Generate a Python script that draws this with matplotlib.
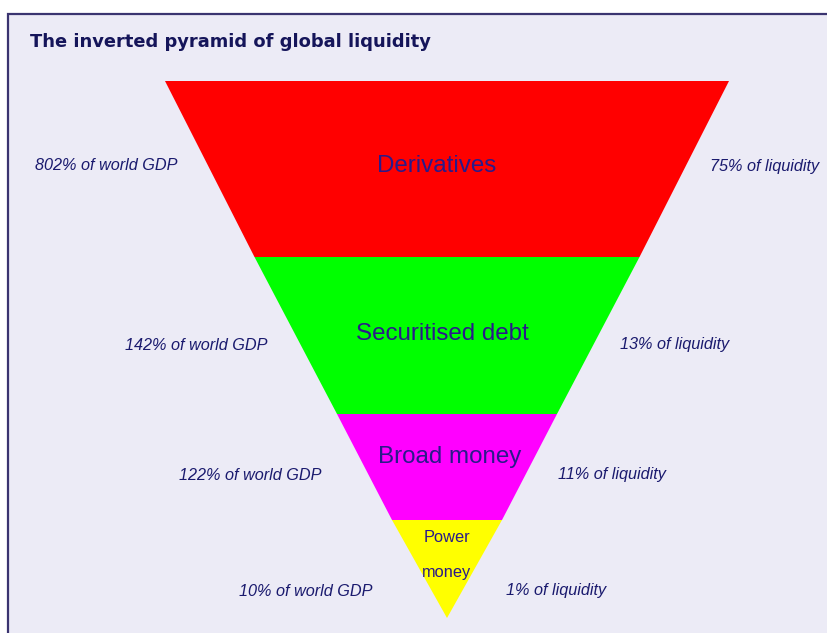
import matplotlib
matplotlib.use("Agg")
import matplotlib.pyplot as plt
from matplotlib.patches import Polygon, Rectangle

# ---- data ----
layers = ["Derivatives", "Securitised debt", "Broad money", "Power\nmoney"]
colors = ["#ff0000", "#00ff00", "#ff00ff", "#ffff00"]
gdp_labels = ["802% of world GDP", "142% of world GDP", "122% of world GDP", "10% of world GDP"]
liq_labels = ["75% of liquidity", "13% of liquidity", "11% of liquidity", "1% of liquidity"]
# level boundaries (top to apex) and half-widths of the pyramid at each level
levels = [81, 257, 414, 520, 618]
half_widths = [282, 192.5, 110, 55, 0]
center_x = 447

title = "The inverted pyramid of global liquidity"

W, H = 828, 633
fig = plt.figure(figsize=(W / 100, H / 100), dpi=100)
fig.patch.set_facecolor("white")
ax = fig.add_axes([0, 0, 1, 1])
ax.set_xlim(0, W)
ax.set_ylim(H, 0)
ax.axis("off")

bg = "#ecebf6"
ax.add_patch(Rectangle((8.5, 13.5), W + 20, H + 20, facecolor=bg,
                       edgecolor="#3a3470", linewidth=1.6))

ax.text(30, 42, title, fontsize=12.9, fontweight="bold", color="#15155a",
        va="center", ha="left", family="DejaVu Sans")

label_color = "#2a1a8a"
side_color = "#1a1a6e"
label_x = [437, 442, 450]
label_y = [166, 334, 457]
side_y = [166, 345, 475, 591]
left_x = [178, 268, 322, 373]
right_x = [710, 620, 558, 506]

for i in range(4):
    y0, y1 = levels[i], levels[i + 1]
    w0, w1 = half_widths[i], half_widths[i + 1]
    pts = [(center_x - w0, y0), (center_x + w0, y0),
           (center_x + w1, y1), (center_x - w1, y1)]
    if w1 == 0:
        pts = pts[:3]
    ax.add_patch(Polygon(pts, closed=True, facecolor=colors[i], edgecolor="none"))

    if i < 3:
        ax.text(label_x[i], label_y[i], layers[i], fontsize=17.4, color=label_color,
                ha="center", va="center", family="Liberation Sans")
    else:
        top, bot = layers[i].split("\n")
        ax.text(447, 537, top, fontsize=11.8, color=label_color,
                ha="center", va="center", family="Liberation Sans")
        ax.text(447, 572, bot, fontsize=11.8, color=label_color,
                ha="center", va="center", family="Liberation Sans")

    ax.text(left_x[i], side_y[i], gdp_labels[i], fontsize=11.7, style="italic",
            color=side_color, ha="right", va="center", family="Liberation Sans")
    ax.text(right_x[i], side_y[i], liq_labels[i], fontsize=11.7, style="italic",
            color=side_color, ha="left", va="center", family="Liberation Sans")

fig.savefig("out.png", dpi=100, facecolor="white")
